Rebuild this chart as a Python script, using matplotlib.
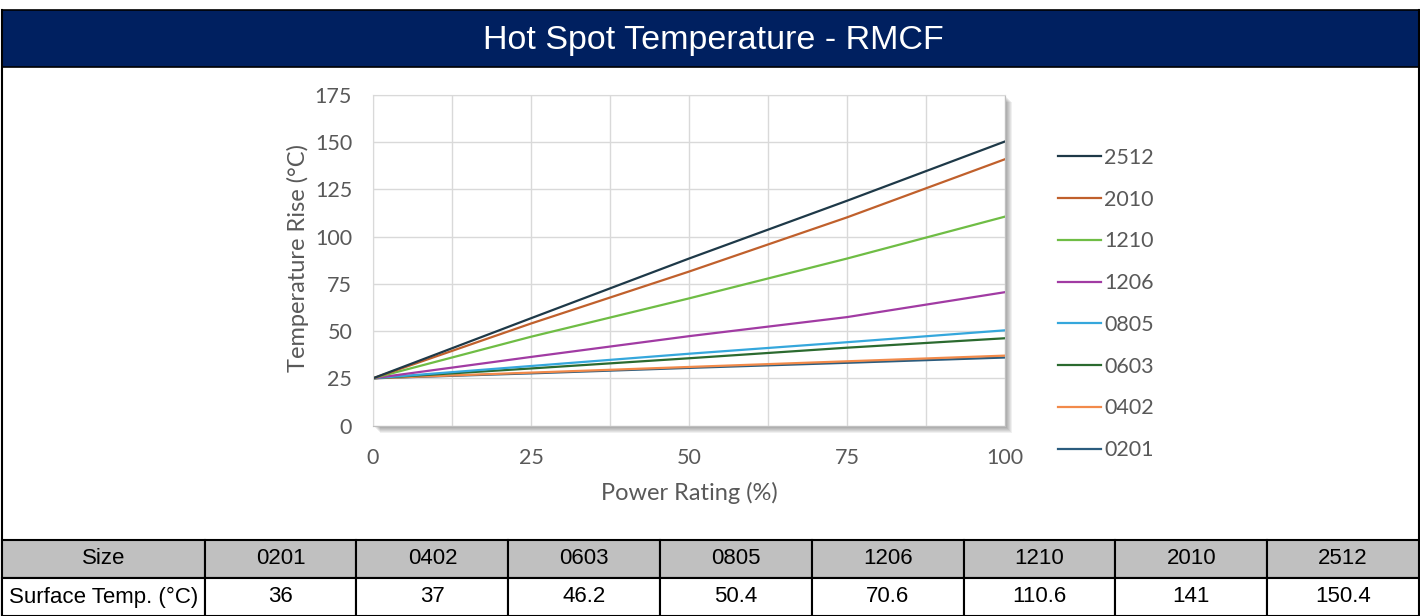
import numpy as np
import matplotlib.pyplot as plt
from matplotlib.patches import Rectangle

# data
power = [0, 25, 50, 75, 100]
sizes = ['0201', '0402', '0603', '0805', '1206', '1210', '2010', '2512']
surface_temp = ['36', '37', '46.2', '50.4', '70.6', '110.6', '141', '150.4']
rise_0201 = [25, 27.6, 30.5, 33.2, 36]
rise_0402 = [25, 28, 31, 34, 37]
rise_0603 = [25, 30.2, 35.6, 41.2, 46.2]
rise_0805 = [25, 31.5, 38, 44.1, 50.4]
rise_1206 = [25, 36.3, 47.3, 57.4, 70.6]
rise_1210 = [25, 47, 67.3, 88.4, 110.6]
rise_2010 = [25, 54, 81.5, 110.2, 141]
rise_2512 = [25, 56.8, 88.4, 119, 150.4]
colors = ['#2b5c7e', '#f28a4a', '#2b6a2f', '#35a7dc', '#a13ba3', '#6fbd45', '#c0602c', '#1e3948']

W, H = 1420, 616
plt.rcParams['font.family'] = ['Lato', 'DejaVu Sans']
fig = plt.figure(figsize=(W / 100, H / 100), dpi=100)

# background layer in pixel coordinates
bg = fig.add_axes([0, 0, 1, 1])
bg.set_xlim(0, W)
bg.set_ylim(H, 0)
bg.axis('off')
bg.add_patch(Rectangle((2, 10), W - 3, 57, facecolor='#002060', edgecolor='black', lw=1.2))
bg.text(713, 40, 'Hot Spot Temperature - RMCF', color='white', fontsize=24.5,
        family=['Liberation Sans', 'DejaVu Sans'], ha='center', va='center')
bg.plot([2, 2], [10, H], color='black', lw=1.5)
bg.plot([W - 1, W - 1], [10, H], color='black', lw=1.5)

# chart area
x0, x1, y0, y1 = 373, 1005, 425.5, 95
for d in range(1, 8):
    bg.add_patch(Rectangle((x0 + d, y1 + d), x1 - x0, y0 - y1, facecolor='black',
                           alpha=0.06, lw=0))
ax = fig.add_axes([x0 / W, 1 - y0 / H, (x1 - x0) / W, (y0 - y1) / H])
ax.set_xlim(0, 100)
ax.set_ylim(0, 175)
ax.set_xticks([0, 25, 50, 75, 100])
ax.set_xticks([12.5, 37.5, 62.5, 87.5], minor=True)
ax.set_yticks(np.arange(0, 176, 25))
ax.grid(True, which='both', color='#d9d9d9', lw=1)
ax.set_axisbelow(True)
for s in ['left', 'top']:
    ax.spines[s].set_color('#d9d9d9')
for s in ['right', 'bottom']:
    ax.spines[s].set_color('#bfbfbf')
ax.tick_params(which='both', length=0, labelsize=15.5, labelcolor='#595959')
ax.tick_params(axis='y', pad=15)
ax.tick_params(axis='x', pad=16)

series = [rise_0201, rise_0402, rise_0603, rise_0805, rise_1206, rise_1210, rise_2010, rise_2512]
for name, vals, c in zip(sizes, series, colors):
    ax.plot(power, vals, color=c, lw=1.6, label=name)

ax.set_xlabel('Power Rating (%)', fontsize=17, color='#595959')
ax.xaxis.set_label_coords(0.5, -0.17)
ax.set_ylabel('Temperature Rise (°C)', fontsize=17, color='#595959')
ax.yaxis.set_label_coords(-0.102, 0.507)

hs, ls = ax.get_legend_handles_labels()
fig.legend(hs[::-1], ls[::-1], loc='upper left', bbox_to_anchor=(1058 / W, 1 - 148 / H),
           frameon=False, fontsize=15.5, labelcolor='#595959', handlelength=2.0,
           handletextpad=0.15, labelspacing=1.01, borderpad=0, borderaxespad=0)

# table
tax = fig.add_axes([2 / W, 0, (W - 3) / W, (H - 540) / H])
tax.axis('off')
cw = np.array([203] + [152] * 8, dtype=float)
tbl = tax.table(cellText=[['Size'] + sizes, ['Surface Temp. (°C)'] + surface_temp],
                colWidths=list(cw / cw.sum()), cellLoc='center', bbox=[0, 0, 1, 1])
tbl.auto_set_font_size(False)
for (r, c), cell in tbl.get_celld().items():
    cell.set_edgecolor('black')
    cell.set_linewidth(1.5)
    cell.get_text().set_fontsize(16)
    cell.get_text().set_family(['Liberation Sans', 'DejaVu Sans'])
    if r == 0:
        cell.set_facecolor('#c0c0c0')

fig.savefig('out.png', dpi=100)
